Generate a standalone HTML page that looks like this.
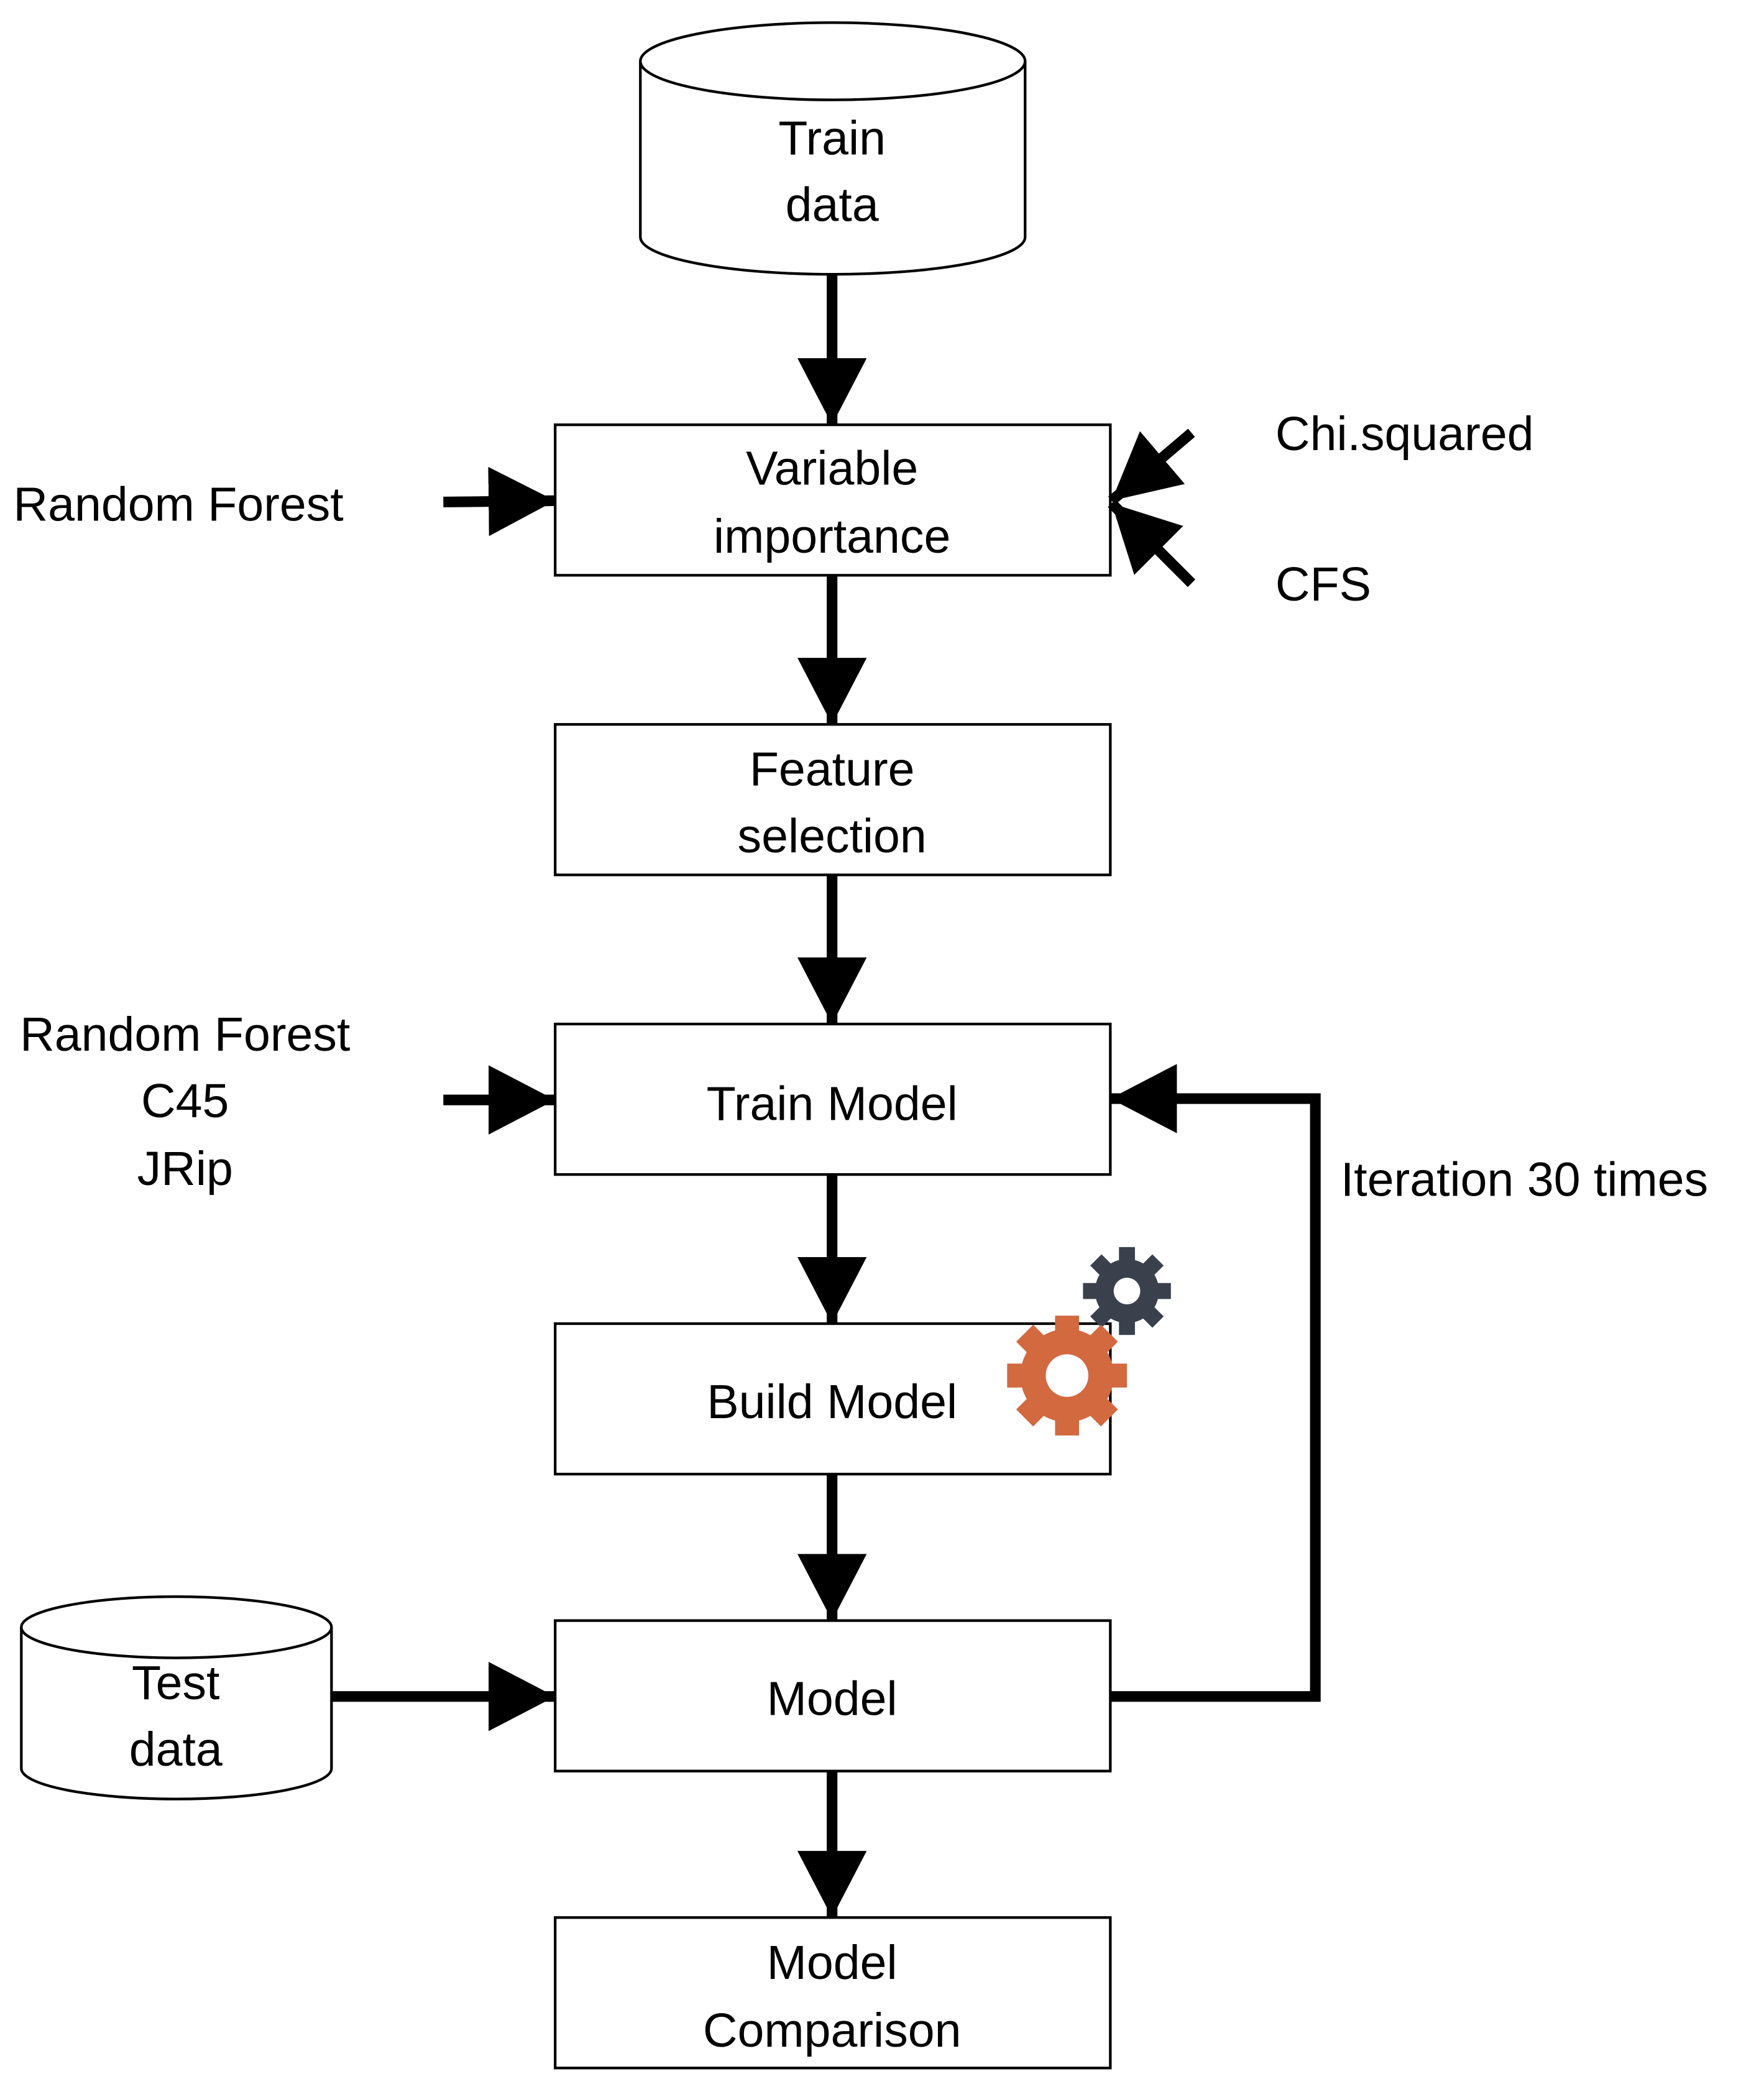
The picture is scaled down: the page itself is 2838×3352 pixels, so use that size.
<!DOCTYPE html>
<html><head><meta charset="utf-8"><style>html,body{margin:0;padding:0;background:#fff}svg{display:block}</style></head>
<body>
<svg width="2838" height="3352" viewBox="0 0 1325 1565" xmlns="http://www.w3.org/2000/svg" font-family="'Liberation Sans', sans-serif" font-size="36">
<defs>
<marker id="a" markerUnits="userSpaceOnUse" markerWidth="52" markerHeight="52" refX="50" refY="26" orient="auto"><path d="M0,0 L50,26 L0,52 Z" fill="#000"/></marker>
</defs>
<g fill="#fff" stroke="#000" stroke-width="2">
<path d="M481,46 L481,178 A144.5,28 0 0 0 770,178 L770,46"/>
<ellipse cx="625.5" cy="46" rx="144.5" ry="29"/>
<path d="M16,1222 L16,1328 A116.5,23 0 0 0 249,1328 L249,1222"/>
<ellipse cx="132.5" cy="1222" rx="116.5" ry="23"/>
<rect x="417" y="319" width="417" height="113"/>
<rect x="417" y="544" width="417" height="113"/>
<rect x="417" y="769" width="417" height="113"/>
<rect x="417" y="994" width="417" height="113"/>
<rect x="417" y="1217" width="417" height="113"/>
<rect x="417" y="1440" width="417" height="113"/>
</g>
<g stroke="#000" stroke-width="8" fill="none" marker-end="url(#a)">
<line x1="625" y1="205" x2="625" y2="319"/>
<line x1="625" y1="432" x2="625" y2="544"/>
<line x1="625" y1="657" x2="625" y2="769"/>
<line x1="625" y1="882" x2="625" y2="994"/>
<line x1="625" y1="1107" x2="625" y2="1217"/>
<line x1="625" y1="1330" x2="625" y2="1440"/>
<line x1="333" y1="377" x2="417" y2="376"/>
<line x1="333" y1="826" x2="417" y2="826"/>
<line x1="249" y1="1274" x2="417" y2="1274"/>
<line x1="895" y1="325" x2="835" y2="376"/>
<line x1="895" y1="438" x2="835" y2="378"/>
<path d="M834,1274 L988,1274 L988,825 L834,825"/>
</g>
<g text-anchor="middle">
<text x="625" y="116">Train</text><text x="625" y="166">data</text>
<text x="625" y="364">Variable</text><text x="625" y="415">importance</text>
<text x="625" y="590">Feature</text><text x="625" y="640">selection</text>
<text x="625" y="841">Train Model</text>
<text x="625" y="1065">Build Model</text>
<text x="625" y="1288">Model</text>
<text x="625" y="1486">Model</text><text x="625" y="1537">Comparison</text>
<text x="132" y="1276">Test</text><text x="132" y="1326">data</text>
<text x="139" y="789">Random Forest</text><text x="139" y="839">C45</text><text x="139" y="890">JRip</text>
</g>
<text x="10" y="391">Random Forest</text>
<text x="958" y="338">Chi.squared</text>
<text x="958" y="451">CFS</text>
<text x="1007" y="898">Iteration 30 times</text>
<g fill="#3a414c" transform="translate(846.5,969.5)">
<circle r="24"/>
<rect x="-6" y="-33" width="12" height="66"/><rect x="-33" y="-6" width="66" height="12"/>
<g transform="rotate(45)"><rect x="-6" y="-33" width="12" height="66"/><rect x="-33" y="-6" width="66" height="12"/></g>
<circle r="10" fill="#fff"/>
</g>
<g fill="#d2693f" transform="translate(801.5,1033)">
<circle r="35"/>
<rect x="-9" y="-45" width="18" height="90"/><rect x="-45" y="-9" width="90" height="18"/>
<g transform="rotate(45)"><rect x="-9" y="-45" width="18" height="90"/><rect x="-45" y="-9" width="90" height="18"/></g>
<circle r="16" fill="#fff"/>
</g>
</svg>
</body></html>
